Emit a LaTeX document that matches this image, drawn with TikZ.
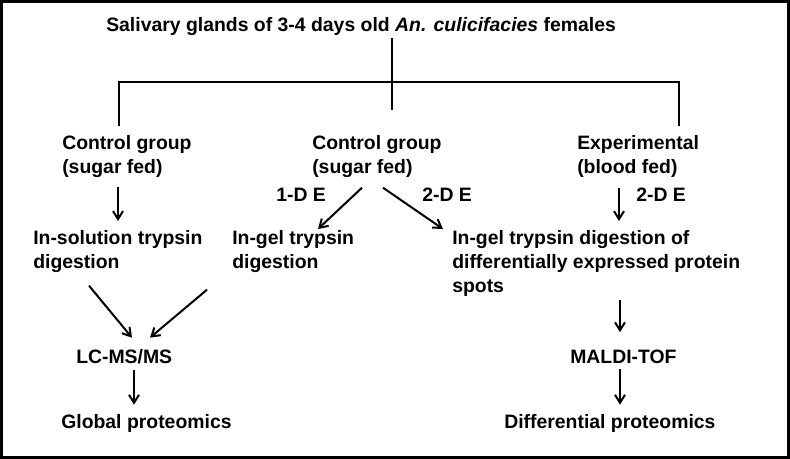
\documentclass[tikz,border=0pt]{standalone}
\usepackage{fontspec}
\setmainfont{Liberation Sans}
\usepackage{tikz}
\usetikzlibrary{arrows.meta, calc}
\tikzstyle{txt} = [inner sep=0pt, align=left, font=\bfseries\fontsize{14.55}{18}\selectfont]
\tikzstyle{branch} = [line width=1.5pt]
\tikzstyle{arrow} = [line width=1.5pt,->,>={Straight Barb[length=6pt,width=7.5pt]}]

\begin{document}
\begin{tikzpicture}[x=0.75pt, y=-0.75pt]
\useasboundingbox (0,0) rectangle (790,459);
\draw [line width=1.9pt] (1.5,1.5) rectangle (788.5,457.5);
% top
\node (title) [txt, anchor=base west] at (106,32) {Salivary glands of 3-4 days old \textit{An. culicifacies} females};
% groups
\node (ctrlA) [txt, anchor=north west] at (62,135) {Control group\\(sugar fed)};
\node (ctrlB) [txt, anchor=north west] at (312,135) {Control group\\(sugar fed)};
\node (expt) [txt, anchor=north west] at (577,135) {Experimental\\(blood fed)};
% digestion
\node (insol) [txt, anchor=north west] at (33,230) {In-solution trypsin\\digestion};
\node (ingel) [txt, anchor=north west] at (232,230) {In-gel trypsin\\digestion};
\node (spots) [txt, anchor=north west] at (452,230) {In-gel trypsin digestion of\\differentially expressed protein\\spots};
% gel labels
\node (odeA) [txt, anchor=base west] at (276,202) {1-D E};
\node (tdeB) [txt, anchor=base west] at (422,202) {2-D E};
\node (tdeC) [txt, anchor=base west] at (636,202) {2-D E};
% ms and results
\node (lcms) [txt, anchor=base west] at (76,364) {LC-MS/MS};
\node (maldi) [txt, anchor=base west] at (570,364) {MALDI-TOF};
\node (global) [txt, anchor=base west] at (61,429) {Global proteomics};
\node (diffprot) [txt, anchor=base west] at (504,429) {Differential proteomics};

% tree
\coordinate (hub) at (392,82);
\draw [branch, shorten <=1.5pt] (title.south -| hub) -- ($(hub)+(0,28)$);
\draw [branch] ($(ctrlA.north west)+(57,-9)$) |- (hub) -| ($(expt.north west)+(102,-9)$);

% arrows
\draw [arrow] ($(ctrlA.south west)+(56,9)$) -- ($(insol.north west)+(85,-9)$);
\draw [arrow] ($(ctrlB.south west)+(50,10)$) -- ($(ingel.north west)+(86,-1)$);
\draw [arrow] ($(ctrlB.south west)+(71,10)$) -- ($(spots.north west)+(-9,-1)$);
\draw [arrow] ($(expt.south west)+(42,10)$) -- ($(spots.north west)+(167,-9)$);
\draw [arrow] ($(insol.south west)+(56,13)$) -- ($(lcms.north west)+(56,-12)$);
\draw [arrow] ($(ingel.south west)+(-25,17)$) -- ($(lcms.north west)+(74,-12)$);
\draw [arrow] ($(spots.south west)+(168,3)$) -- ($(maldi.north west)+(50,-18)$);
\draw [arrow] ($(lcms.south west)+(58,5)$) -- ($(global.north west)+(73,-10)$);
\draw [arrow] ($(maldi.south west)+(50,5)$) -- ($(diffprot.north west)+(116,-10)$);
\end{tikzpicture}
\end{document}
